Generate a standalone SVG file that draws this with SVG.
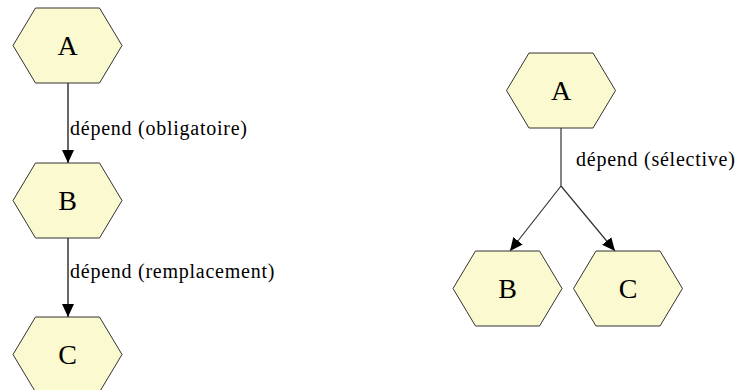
<svg xmlns="http://www.w3.org/2000/svg" width="735" height="390" viewBox="0 0 735 390">
<style>
.node polygon{fill:#FBF9CF;stroke:#333;stroke-width:1}
.node text{font-family:"Liberation Serif","Times New Roman",serif;font-size:28px;fill:#000;text-anchor:middle}
.edge{stroke:#000;stroke-width:1.2;fill:none}
.edge2{stroke:#333;stroke-width:1.2;fill:none}
.lbl{font-family:"Liberation Serif","Times New Roman",serif;font-size:20px;letter-spacing:0.75px;fill:#000}
</style>
<defs>
<marker id="arr" markerUnits="userSpaceOnUse" markerWidth="14" markerHeight="12" viewBox="0 0 14 12" refX="13" refY="6" orient="auto">
<path d="M0,0 L13,6 L0,12 Z" fill="#000"/>
</marker>
</defs>
<rect width="735" height="390" fill="#fff"/>
<g id="connectors">
<line class="edge" x1="68" y1="83" x2="68" y2="163" marker-end="url(#arr)"/>
<line class="edge" x1="68" y1="238" x2="68" y2="317" marker-end="url(#arr)"/>
<line class="edge2" x1="561" y1="128" x2="561" y2="186"/>
<line class="edge2" x1="561" y1="186" x2="510" y2="251" marker-end="url(#arr)"/>
<line class="edge2" x1="561" y1="186" x2="615" y2="251" marker-end="url(#arr)"/>
<text class="lbl" x="70" y="135">dépend (obligatoire)</text>
<text class="lbl" x="70" y="278">dépend (remplacement)</text>
<text class="lbl" x="576" y="166">dépend (sélective)</text>
</g>
<g id="nodeA1" class="node">
<polygon points="13,45.5 35.5,8 99.5,8 122,45.5 99.5,83 35.5,83"/>
<text x="67.5" y="55">A</text>
</g>
<g id="nodeB1" class="node">
<polygon points="13,200.5 35.5,163 99.5,163 122,200.5 99.5,238 35.5,238"/>
<text x="67.5" y="210">B</text>
</g>
<g id="nodeC1" class="node">
<polygon points="13,354.5 35.5,317 99.5,317 122,354.5 99.5,392 35.5,392"/>
<text x="67.5" y="364">C</text>
</g>
<g id="nodeA2" class="node">
<polygon points="506.5,90.5 529,53 593,53 615.5,90.5 593,128 529,128"/>
<text x="561" y="100">A</text>
</g>
<g id="nodeB2" class="node">
<polygon points="453,288.5 475.5,251 539.5,251 562,288.5 539.5,326 475.5,326"/>
<text x="507.5" y="298">B</text>
</g>
<g id="nodeC2" class="node">
<polygon points="573.5,288.5 596,251 660,251 682.5,288.5 660,326 596,326"/>
<text x="628" y="298">C</text>
</g>
</svg>
